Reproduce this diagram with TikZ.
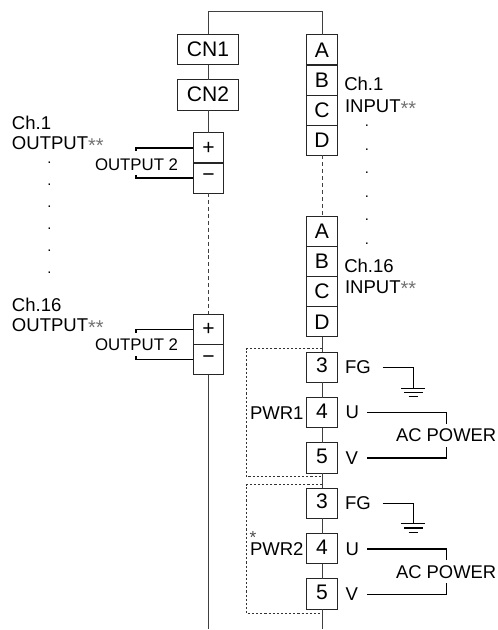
\documentclass[tikz,border=0pt]{standalone}
\usepackage{fontspec}
\setmainfont{Liberation Sans}
\newcommand{\stars}{\textcolor{black!55}{\raisebox{-1.8pt}{\fontsize{15pt}{15pt}\selectfont **}}}
\tikzset{
 wire/.style={line width=0.75pt,draw=black!75},
 heavy/.style={line width=1pt,draw=black},
 dashwire/.style={line width=0.75pt,draw=black!75,dash pattern=on 3pt off 2.2pt},
 dotbox/.style={line width=0.6pt,draw=black!80,dash pattern=on 1.6pt off 1.5pt},
 termbox/.style={draw=black!85,line width=0.75pt,minimum width=22.6pt,minimum height=22.6pt,inner sep=0pt,outer sep=0pt,font=\fontsize{15.8pt}{15.8pt}\selectfont},
 numbox/.style={termbox,text depth=3pt},
 cnbox/.style={termbox,minimum width=45.5pt,text depth=1pt},
 lbl/.style={anchor=base west,inner sep=0pt,outer sep=0pt,font=\fontsize{13.9pt}{13.9pt}\selectfont},
 outlbl/.style={lbl,font=\fontsize{12.6pt}{12.6pt}\selectfont},
 acl/.style={lbl,font=\fontsize{13.8pt}{13.8pt}\selectfont},
 dotlbl/.style={anchor=base,inner sep=0pt,outer sep=0pt,font=\fontsize{11pt}{11pt}\selectfont},
}
\begin{document}
\begin{tikzpicture}[x=0.75pt,y=-0.75pt]
\useasboundingbox (0,0) rectangle (497,630);
% left column
\node[cnbox] (cn1) at (208,49.5) {CN1};
\node[cnbox] (cn2) at (208,95) {CN2};
\node[termbox] (p1) at (208.5,148) {+};
\node[termbox] (m1) at (208.5,178) {−};
\node[termbox] (p2) at (208.5,329.3) {+};
\node[termbox] (m2) at (208.5,359.6) {−};
% right column
\foreach \n/\t/\y in {a1/A/49.8,b1/B/80.2,c1/C/110.5,d1/D/140.3,a2/A/231.3,b2/B/261.5,c2/C/291.5,d2/D/321.8}
  \node[termbox] (\n) at (322,\y) {\t};
\foreach \n/\t/\y in {t3/3/367.4,t4/4/412.8,t5/5/458,s3/3/503.2,s4/4/548.8,s5/5/594}
  \node[numbox] (\n) at (322,\y) {\t};
\coordinate (top) at (322,12);
\coordinate (leftend) at (208,629);
\coordinate (rightend) at (322,629);
\draw[wire] (cn1.north) |- (top) -- (a1.north);
\draw[wire] (cn1) -- (cn2);
\draw[wire] (cn2.south) -- (cn2.south |- p1.north);
\draw[dashwire] (m1.south -| cn2.south) -- (p2.north -| cn2.south);
\draw[wire] (m2.south -| cn2.south) -- (leftend);
\draw[dashwire] (d1.south) -- (a2.north);
\draw[wire] (d2.south) -- (t3.north);
\draw[wire] (t3) -- (t4);
\draw[wire] (t4) -- (t5);
\draw[wire] (t5.south) -- (s3.north);
\draw[wire] (s3) -- (s4);
\draw[wire] (s4) -- (s5);
\draw[wire] (s5.south) -- (rightend);
% output brackets
\coordinate (o1a) at (136,151); \coordinate (o1b) at (136,175);
\coordinate (o2a) at (136,333); \coordinate (o2b) at (136,356);
\draw[heavy] (o1a) |- (p1.west);
\draw[heavy] (o1b) |- (m1.west);
\draw[heavy] (o2a) |- (p2.west);
\draw[heavy] (o2b) |- (m2.west);
% dotted PWR boxes
\coordinate (d1a) at (322,348.5); \coordinate (d1b) at (246,348.5); \coordinate (d1c) at (246,476.7); \coordinate (d1d) at (322,476.7);
\coordinate (d2a) at (322,484.5); \coordinate (d2b) at (246,484.5); \coordinate (d2c) at (246,613.3); \coordinate (d2d) at (322,613.3);
\draw[dotbox] (d1a) -- (d1b) -- (d1c) -- (d1d);
\draw[dotbox] (d2a) -- (d2b) -- (d2c) -- (d2d);
% left labels
\node[lbl] at (12,130) {Ch.1};
\node[lbl] at (12,150) {OUTPUT\stars};
\node[outlbl] at (95,170.5) {OUTPUT 2};
\node[lbl] at (12,311) {Ch.16};
\node[lbl] at (12,331.7) {OUTPUT\stars};
\node[outlbl] at (95,350.5) {OUTPUT 2};
\foreach \y in {164,186,208,230,252,274} \node[dotlbl] at (49.5,\y) {.};
% right labels
\node[lbl] at (344.3,90.7) {Ch.1};
\node[lbl] at (345,112.7) {INPUT\stars};
\node[lbl] at (344.3,272.7) {Ch.16};
\node[lbl] at (345,293.5) {INPUT\stars};
\foreach \y in {127,150.5,174,197.5,221,244.5} \node[dotlbl] at (367,\y) {.};
% power labels
\node[lbl] at (250,419.3) {PWR1};
\node[lbl] at (250,555.3) {PWR2};
\node[dotlbl,text=black!70,font=\fontsize{13pt}{13pt}\selectfont] at (253,543.5) {*};
% power block 1
\node[lbl] (fg1) at (345,373.5) {FG};
\node[lbl] (u1) at (345.5,418.5) {U};
\node[lbl] (v1) at (345.5,464) {V};
\node[acl] (ac1) at (396,441.7) {AC POWER};
\coordinate (fg1s) at (382.7,367.3); \coordinate (g1) at (413.3,388.3);
\coordinate (u1s) at (367.3,412.3); \coordinate (u1e) at (446.7,424);
\coordinate (v1s) at (367.3,458); \coordinate (v1e) at (446.7,447);
\draw[heavy] (fg1s) -| (g1);
\draw[heavy] (u1s) -| (u1e);
\draw[heavy] (v1s) -| (v1e);
\draw[heavy] (401.3,388.3) -- (425,388.3);
\draw[heavy] (404,392.5) -- (423,392.5);
\draw[heavy] (408.5,396.7) -- (417.5,396.7);
% power block 2
\node[lbl] (fg2) at (345,509.5) {FG};
\node[lbl] (u2) at (345.5,555) {U};
\node[lbl] (v2) at (345.5,600) {V};
\node[acl] (ac2) at (396,578) {AC POWER};
\coordinate (fg2s) at (382.7,503.3); \coordinate (g2) at (413.3,523.8);
\coordinate (u2s) at (367.3,549); \coordinate (u2e) at (446.7,560);
\coordinate (v2s) at (367.3,594.3); \coordinate (v2e) at (446.7,583);
\draw[heavy] (fg2s) -| (g2);
\draw[heavy] (u2s) -| (u2e);
\draw[heavy] (v2s) -| (v2e);
\draw[heavy] (401.3,523.8) -- (425,523.8);
\draw[heavy] (404,528) -- (423,528);
\draw[heavy] (408.5,532.5) -- (417.5,532.5);
\end{tikzpicture}
\end{document}
